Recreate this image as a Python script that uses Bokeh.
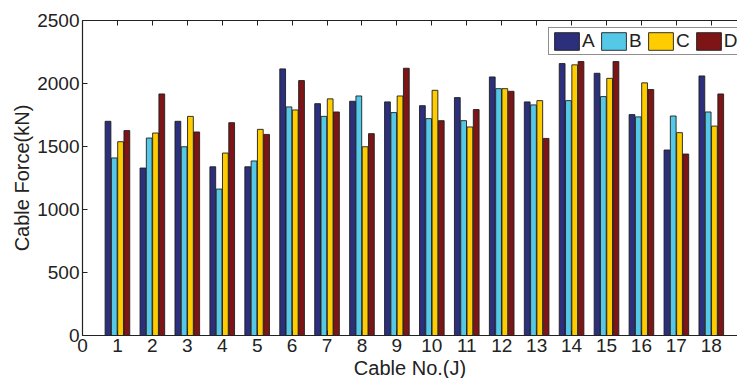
from bokeh.plotting import figure
from bokeh.models import (LinearAxis, FixedTicker, Range1d, Legend, LegendItem, Title)
from bokeh.embed import file_html
from bokeh.resources import INLINE

# Cable numbers and measured forces (kN) for the four cases
cables = list(range(1, 19))
force_a = [1700, 1329, 1700, 1339, 1339, 2116, 1840, 1859, 1854, 1824, 1888, 2052,
           1854, 2158, 2081, 1753, 1472, 2060]
force_b = [1409, 1567, 1498, 1162, 1385, 1814, 1739, 1901, 1769, 1721, 1705, 1959,
           1830, 1864, 1896, 1735, 1742, 1774]
force_c = [1538, 1607, 1739, 1448, 1636, 1790, 1878, 1498, 1901, 1946, 1655, 1959,
           1864, 2148, 2041, 2005, 1610, 1662]
force_d = [1626, 1917, 1615, 1689, 1596, 2023, 1774, 1602, 2121, 1705, 1793, 1938,
           1564, 2174, 2174, 1952, 1440, 1917]
series_names = ["A", "B", "C", "D"]
x_ticks = list(range(0, 19))
y_ticks = [0, 500, 1000, 1500, 2000, 2500]

colors = ["#2B2F7C", "#55C8E8", "#FFCC00", "#7D1517"]
offsets = [-0.27, -0.09, 0.09, 0.27]
bar_w = 0.165
FONT = "Liberation Sans"
TXT = "#222222"

p = figure(width=737, height=378, output_backend="svg", toolbar_location=None,
           x_range=Range1d(0, 18.75), y_range=Range1d(0, 2500),
           min_border_left=82, min_border_right=0, min_border_top=20,
           min_border_bottom=43, x_axis_location=None, y_axis_location=None)
p.outline_line_color = None
p.grid.visible = False
p.background_fill_color = "white"
p.border_fill_color = "white"

def style_axis(ax):
    ax.axis_line_color = TXT
    ax.axis_line_width = 1.2
    ax.major_tick_line_color = TXT
    ax.major_tick_in = 5
    ax.major_tick_out = 0
    ax.minor_tick_line_color = None
    ax.major_label_text_font = FONT
    ax.major_label_text_color = TXT
    ax.major_label_text_font_size = "19px"
    ax.major_label_standoff = 3
    ax.axis_label_text_font = FONT
    ax.axis_label_text_color = TXT
    ax.axis_label_text_font_size = "20px"
    ax.axis_label_text_font_style = "normal"
    ax.axis_label_standoff = 0

xb = LinearAxis(ticker=FixedTicker(ticks=x_ticks))
style_axis(xb)
p.add_layout(xb, "below")

# x-axis title as a panel under the tick labels
xtitle = Title(text="Cable No.(J)", align="center", offset=4, standoff=0,
               text_font=FONT, text_font_size="20px", text_font_style="normal",
               text_color=TXT)
p.add_layout(xtitle, "below")

# top edge of the box: inward ticks only, no labels
xt = LinearAxis(ticker=FixedTicker(ticks=x_ticks))
style_axis(xt)
xt.major_label_overrides = {t: "" for t in x_ticks}
xt.major_label_standoff = 0
p.add_layout(xt, "above")

yl = LinearAxis(ticker=FixedTicker(ticks=y_ticks), axis_label="Cable Force(kN)")
style_axis(yl)
yl.major_label_standoff = 3
yl.axis_label_standoff = 1
p.add_layout(yl, "left")

items = []
for name, vals, off, col in zip(series_names, [force_a, force_b, force_c, force_d],
                                offsets, colors):
    xs = [c + off for c in cables]
    r = p.vbar(x=xs, top=vals, bottom=0, width=bar_w, fill_color=col,
               line_color="#1e1e1e", line_width=0.9)
    items.append(LegendItem(label=name, renderers=[r]))

legend = Legend(items=items, orientation="horizontal", location=(466, 280),
                glyph_width=31, glyph_height=22, label_standoff=0, spacing=3,
                padding=2, margin=0, label_height=22, label_width=13,
                label_text_font=FONT, label_text_font_size="19px",
                label_text_color=TXT, border_line_color="#1e1e1e",
                border_line_width=1.2, background_fill_alpha=1.0)
p.add_layout(legend, "center")

open("out.html", "w").write(file_html(p, INLINE))
